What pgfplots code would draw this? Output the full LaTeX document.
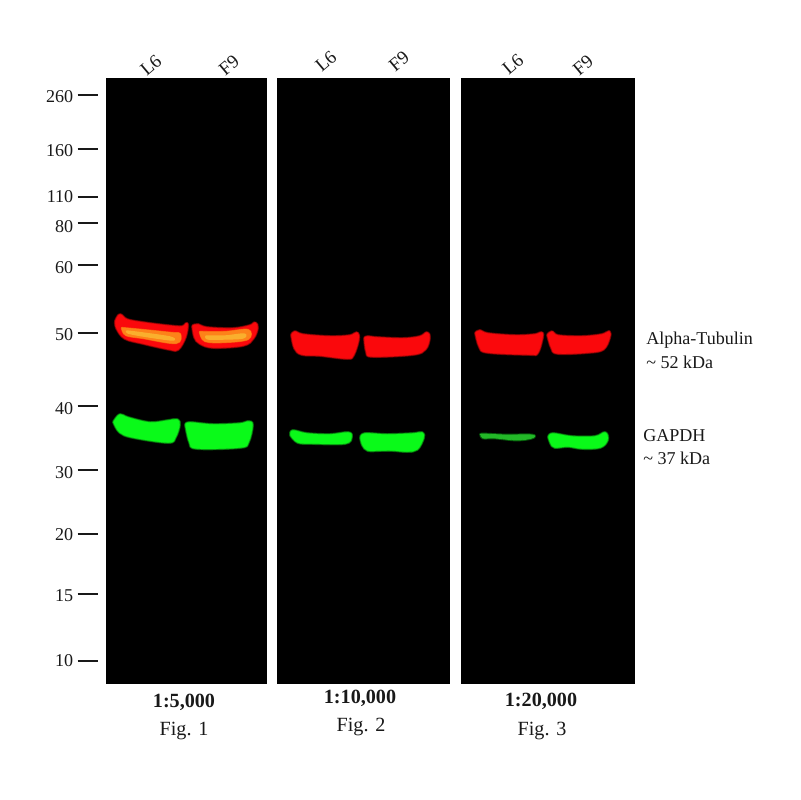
\documentclass[border=0pt]{standalone}
\usepackage{pgfplots}
\pgfplotsset{compat=1.18}
\usepackage{fontspec}
\setmainfont{Liberation Serif}
\definecolor{rcore}{RGB}{250,8,12}
\definecolor{rmid}{RGB}{200,6,8}
\definecolor{rdim}{RGB}{100,3,3}
\definecolor{gcore}{RGB}{10,250,25}
\definecolor{gmid}{RGB}{10,185,20}
\definecolor{gdim}{RGB}{5,90,10}
\definecolor{orangeb}{RGB}{250,90,15}
\definecolor{orangec}{RGB}{253,130,25}
\definecolor{yellowb}{RGB}{250,175,45}
\definecolor{fgreen}{RGB}{35,185,40}
\definecolor{tickc}{RGB}{25,25,25}
\pgfplotsset{soft/.style={line join=round,line cap=round,smooth,tension=0.6}}
\newcommand{\band}[4]{%
  \addplot[soft,draw=#1,line width=2.8pt] coordinates {#4} -- cycle;
  \addplot[soft,draw=#2,line width=1.8pt] coordinates {#4} -- cycle;
  \addplot[soft,draw=#3,fill=#3,line width=0.8pt] coordinates {#4} -- cycle;
}
\newcommand{\core}[3]{%
  \addplot[soft,draw=#1,line width=1.6pt,fill=#1] coordinates {#3} -- cycle;
  \addplot[soft,draw=#2,line width=0.8pt,fill=#2] coordinates {#3} -- cycle;
}
\newcommand{\mw}[3]{%
  \addplot[draw=tickc,line width=1.5pt] coordinates {(77.5,#1) (97.5,#1)};
  \node[anchor=east,inner sep=0pt,text=tickc] at (axis cs:73.5,#2) {\fontsize{13}{15}\selectfont #3};
}
\newcommand{\lane}[3]{\node[rotate=40,inner sep=0pt,text=tickc] at (axis cs:#1,#2) {\fontsize{13.5}{15}\selectfont #3};}
\begin{document}
\begin{tikzpicture}
\begin{axis}[
  scale only axis,width=576pt,height=576pt,
  xmin=0,xmax=800,ymin=0,ymax=800,y dir=reverse,
  axis lines=none,clip=false]
\addplot[draw=none,fill=white] coordinates {(0,0) (800,0) (800,800) (0,800)} -- cycle;
% panels
\addplot[draw=none,fill=black] coordinates {(106,78) (267,78) (267,684) (106,684)} -- cycle;
\addplot[draw=none,fill=black] coordinates {(277,78) (450,78) (450,684) (277,684)} -- cycle;
\addplot[draw=none,fill=black] coordinates {(461,78) (635,78) (635,684) (461,684)} -- cycle;
% panel 1 red
\band{rdim}{rmid}{rcore}{(116,321) (120,315) (127,320) (143,323) (167,326) (182,327) (187,324) (185,337) (178,349) (170,349) (143,343) (125,338) (117,328) (116,321)}
\core{orangeb}{orangec}{(122,328) (143,330) (172,333) (180,334) (176,343) (143,338) (126,335) (122,328)}
\addplot[soft,draw=yellowb,line width=1pt,fill=yellowb] coordinates {(127,331) (143,333) (170,337) (172,340) (143,336) (128,333) (127,331)} -- cycle;
\band{rdim}{rmid}{rcore}{(193,326) (198,325) (207,328) (233,329) (250,326) (255,323) (257,328) (253,338) (243,345) (213,347) (200,343) (195,337) (193,326)}
\core{orangeb}{orangec}{(200,332) (225,332) (248,330) (248,339) (225,342) (205,341) (200,332)}
\addplot[soft,draw=yellowb,line width=1pt,fill=yellowb] coordinates {(206,336) (225,336) (244,334) (243,338) (225,339) (208,339) (206,336)} -- cycle;
% panel 1 green
\band{gdim}{gmid}{gcore}{(114,422) (120,415) (128,418) (150,423) (168,421) (177,420) (179,425) (175,437) (168,442) (133,437) (120,432) (114,422)}
\band{gdim}{gmid}{gcore}{(186,425) (190,423) (213,425) (240,424) (248,422) (252,425) (248,442) (240,447) (197,448) (190,442) (186,425)}
% panel 2
\band{rdim}{rmid}{rcore}{(292,335) (295,332) (303,335) (330,337) (350,336) (357,333) (358,340) (353,355) (347,358) (320,355) (302,354) (295,348) (292,335)}
\band{rdim}{rmid}{rcore}{(365,338) (368,337) (377,338) (403,339) (420,337) (427,333) (429,338) (425,349) (413,354) (373,356) (367,352) (365,338)}
\band{gdim}{gmid}{gcore}{(291,435) (293,431) (307,434) (330,435) (348,433) (351,437) (345,443) (313,443) (298,442) (291,435)}
\band{gdim}{gmid}{gcore}{(361,438) (365,434) (387,435) (413,434) (422,433) (423,438) (417,449) (407,451) (393,450) (380,450) (368,450) (363,445) (361,438)}
% panel 3
\band{rdim}{rmid}{rcore}{(476,333) (480,331) (488,334) (515,336) (535,335) (542,333) (541,342) (537,353) (530,354) (488,352) (480,347) (476,333)}
\band{rdim}{rmid}{rcore}{(548,335) (552,332) (558,336) (582,337) (602,335) (609,332) (609,338) (603,349) (588,352) (558,353) (552,348) (548,335)}
\addplot[soft,draw=gdim,line width=2pt,fill=gdim] coordinates {(481,435) (483,434) (505,435) (532,435) (532,438) (517,440) (495,438) (483,438) (481,435)} -- cycle;
\addplot[soft,draw=fgreen,line width=0.6pt,fill=fgreen] coordinates {(481,435) (483,434) (505,435) (532,435) (532,438) (517,440) (495,438) (483,438) (481,435)} -- cycle;
\band{gdim}{gmid}{gcore}{(549,437) (553,434) (572,437) (595,437) (605,433) (607,440) (600,447) (582,448) (568,446) (555,447) (551,443) (549,437)}
% markers
\mw{95}{97}{260}
\mw{149}{151}{160}
\mw{197}{197}{110}
\mw{223}{227}{80}
\mw{265}{268}{60}
\mw{333}{335}{50}
\mw{406}{409}{40}
\mw{470}{473}{30}
\mw{534}{535}{20}
\mw{594}{596}{15}
\mw{661}{661}{10}
% lanes
\lane{151}{65}{L6}
\lane{229}{65}{F9}
\lane{326}{61}{L6}
\lane{399}{61}{F9}
\lane{513}{64}{L6}
\lane{583}{65}{F9}
% right labels
\node[anchor=west,inner sep=0pt,text=tickc] at (axis cs:646,340) {\fontsize{13}{15}\selectfont Alpha-Tubulin};
\node[anchor=west,inner sep=0pt,text=tickc] at (axis cs:646,362) {\fontsize{13}{15}\selectfont \symbol{126} 52 kDa};
\node[anchor=west,inner sep=0pt,text=tickc] at (axis cs:643,436) {\fontsize{13}{15}\selectfont GAPDH};
\node[anchor=west,inner sep=0pt,text=tickc] at (axis cs:643,458) {\fontsize{13}{15}\selectfont \symbol{126} 37 kDa};
% bottom labels
\node[inner sep=0pt,text=tickc] at (axis cs:184,702) {\fontsize{14.5}{17}\selectfont\bfseries 1:5,000};
\node[inner sep=0pt,text=tickc] at (axis cs:184,731) {\fontsize{14.5}{17}\selectfont Fig. 1};
\node[inner sep=0pt,text=tickc] at (axis cs:360,698) {\fontsize{14.5}{17}\selectfont\bfseries 1:10,000};
\node[inner sep=0pt,text=tickc] at (axis cs:361,727) {\fontsize{14.5}{17}\selectfont Fig. 2};
\node[inner sep=0pt,text=tickc] at (axis cs:541,701) {\fontsize{14.5}{17}\selectfont\bfseries 1:20,000};
\node[inner sep=0pt,text=tickc] at (axis cs:542,731) {\fontsize{14.5}{17}\selectfont Fig. 3};
\end{axis}
\end{tikzpicture}
\end{document}
